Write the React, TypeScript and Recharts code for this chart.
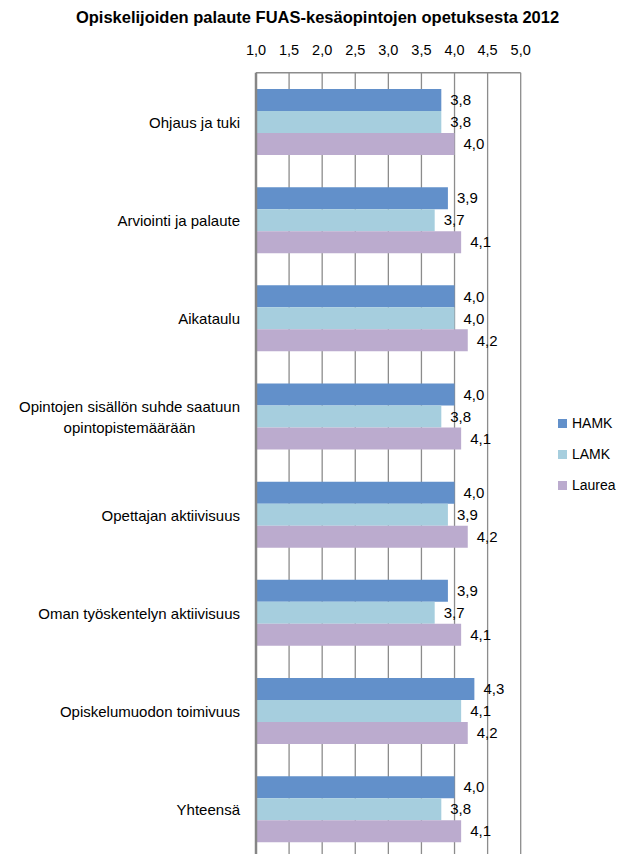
import React from 'react';
import { BarChart, Bar, XAxis, YAxis, CartesianGrid, LabelList } from 'recharts';

const categories = [
  'Ohjaus ja tuki',
  'Arviointi ja palaute',
  'Aikataulu',
  'Opintojen sisällön suhde saatuun opintopistemäärään',
  'Opettajan aktiivisuus',
  'Oman työskentelyn aktiivisuus',
  'Opiskelumuodon toimivuus',
  'Yhteensä',
];
const hamk = [3.8, 3.9, 4.0, 4.0, 4.0, 3.9, 4.3, 4.0];
const lamk = [3.8, 3.7, 4.0, 3.8, 3.9, 3.7, 4.1, 3.8];
const laurea = [4.0, 4.1, 4.2, 4.1, 4.2, 4.1, 4.2, 4.1];
const xTicks = [1.0, 1.5, 2.0, 2.5, 3.0, 3.5, 4.0, 4.5, 5.0];
const title = 'Opiskelijoiden palaute FUAS-kesäopintojen opetuksesta 2012';

const seriesNames = ['HAMK', 'LAMK', 'Laurea'];
const colors = ['#6290CA', '#A6CEDE', '#BBABCE'];

const data = categories.map((name, i) => ({
  name,
  HAMK: hamk[i],
  LAMK: lamk[i],
  Laurea: laurea[i],
}));

const FONT = '"Liberation Sans", Arial, sans-serif';
const fmt = (v: number) => Number(v).toFixed(1).replace('.', ',');

const measure = (text: string, size: number) => {
  const c = document.createElement('canvas');
  const ctx = c.getContext('2d');
  if (!ctx) return text.length * size * 0.5;
  ctx.font = `${size}px ${FONT}`;
  return ctx.measureText(text).width;
};

const wrap = (text: string, maxChars: number) => {
  const words = text.split(' ');
  const lines: string[] = [];
  let cur = '';
  words.forEach((w) => {
    const next = cur ? cur + ' ' + w : w;
    if (next.length > maxChars && cur) {
      lines.push(cur);
      cur = w;
    } else {
      cur = next;
    }
  });
  if (cur) lines.push(cur);
  return lines;
};

const YTick = (props: any) => {
  const { x, y, payload } = props;
  const lines = wrap(String(payload.value), 33);
  const size = 15;
  const right = x - 8;
  if (lines.length === 1) {
    return (
      <text x={right} y={y + 1} dy="0.35em" textAnchor="end" fontSize={size} fontFamily={FONT} fill="#000">
        {lines[0]}
      </text>
    );
  }
  const maxW = Math.max(...lines.map((l) => measure(l, size)));
  const cx = right - maxW / 2;
  const lh = 21.7;
  const start = y + 1 - ((lines.length - 1) * lh) / 2;
  return (
    <text textAnchor="middle" fontSize={size} fontFamily={FONT} fill="#000">
      {lines.map((l, i) => (
        <tspan key={i} x={cx} y={start + i * lh} dy="0.35em">
          {l}
        </tspan>
      ))}
    </text>
  );
};

const XTick = (props: any) => {
  const { x, payload } = props;
  return (
    <text x={x} y={50} dy="0.35em" textAnchor="middle" fontSize={14.5} fontFamily={FONT} fill="#000">
      {fmt(payload.value)}
    </text>
  );
};

export default function App() {
  return (
    <div style={{ position: 'absolute', left: 0, top: 0, width: 620, height: 854, overflow: 'hidden', background: '#fff' }}>
      <div
        style={{
          position: 'absolute',
          left: 317.5,
          top: 7.5,
          transform: 'translateX(-50%)',
          whiteSpace: 'nowrap',
          fontFamily: FONT,
          fontWeight: 'bold',
          fontSize: 16.5,
          lineHeight: '19px',
          color: '#000',
        }}
      >
        {title}
      </div>
      <BarChart
        width={620}
        height={858}
        data={data}
        layout="vertical"
        margin={{ top: 42.7, right: 99.3, left: 0, bottom: 0 }}
        barCategoryGap={16.3}
        barGap={0}
      >
        <CartesianGrid horizontal={false} vertical={true} stroke="#8C8C8C" strokeWidth={1.3} />
        <XAxis
          type="number"
          orientation="top"
          domain={[1, 5]}
          ticks={xTicks}
          height={30}
          tickLine={false}
          axisLine={{ stroke: '#8C8C8C', strokeWidth: 1.5 }}
          tick={<XTick />}
          interval={0}
        />
        <YAxis
          type="category"
          dataKey="name"
          width={256}
          tickLine={false}
          axisLine={{ stroke: '#868686', strokeWidth: 2.5 }}
          tick={<YTick />}
          interval={0}
        />
        {seriesNames.map((n, i) => (
          <Bar key={n} dataKey={n} fill={colors[i]} isAnimationActive={false}>
            <LabelList
              dataKey={n}
              position="right"
              offset={9}
              formatter={(v: any) => fmt(v)}
              style={{ fontSize: 15, fontFamily: FONT, fill: '#000' }}
            />
          </Bar>
        ))}
      </BarChart>
      <div
        style={{
          position: 'absolute',
          left: 558,
          top: 407.5,
          width: 62,
          fontFamily: FONT,
          fontSize: 14,
          color: '#000',
        }}
      >
        {seriesNames.map((n, i) => (
          <div key={n} style={{ display: 'flex', alignItems: 'center', height: 31, whiteSpace: 'nowrap' }}>
            <div style={{ width: 9, height: 9, background: colors[i], marginRight: 5, flexShrink: 0 }} />
            <span>{n}</span>
          </div>
        ))}
      </div>
    </div>
  );
}
